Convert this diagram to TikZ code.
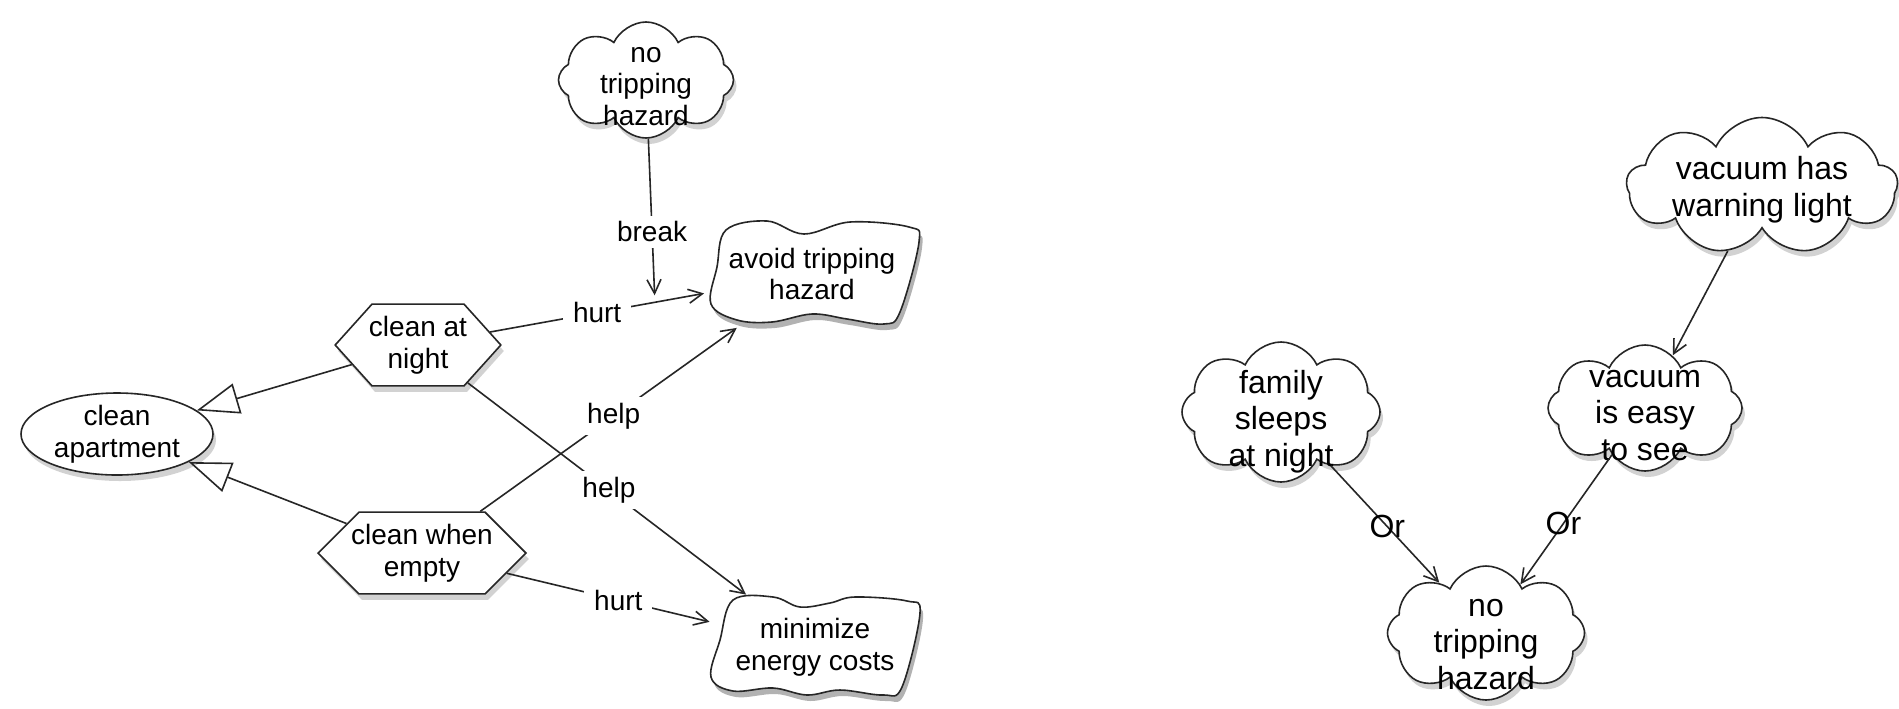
\documentclass[tikz,border=0pt]{standalone}
\usepackage{fontspec}
\setmainfont{Liberation Sans}
\usetikzlibrary{shapes.geometric,shapes.symbols,arrows.meta,shadows}
\newcommand\lfnt{\fontsize{14}{15.8}\selectfont}
\newcommand\rfnt{\fontsize{16}{18.3}\selectfont}
\newcommand\drawblob[2]{%
  \fill[black, opacity=0.3, shift={(#1)}, shift={(3,6)}] plot[smooth cycle, tension=0.6] coordinates {#2};
  \draw[draw=black!85, line width=0.8pt, fill=white, shift={(#1)}] plot[smooth cycle, tension=0.6] coordinates {#2};}
\tikzset{
  base/.style={draw=black!85, line width=0.8pt, fill=white, align=center, inner sep=0pt,
    drop shadow={shadow xshift=1.5pt, shadow yshift=-3pt, opacity=0.35}},
  cloudnode/.style={base, cloud, cloud puffs=8, cloud puff arc=130, cloud ignores aspect},
  ctext/.style={align=center, inner sep=0pt},
  hexnode/.style={base, signal, signal to=east and west, font=\lfnt},
  ellnode/.style={base, ellipse, font=\lfnt},
  blobnode/.style={rectangle, inner sep=0pt, align=center, font=\lfnt},
  conn/.style={draw=black!85, line width=0.8pt},
  arr/.style={conn, -{Straight Barb[length=7pt,width=7pt]}},
  gen/.style={conn, -{Triangle[open,length=21pt,width=15.5pt]}},
  lbl/.style={fill=white, inner xsep=5pt, inner ysep=3pt, font=\lfnt},
  rlbl/.style={inner sep=0pt, font=\rfnt},
}
\begin{document}
\begin{tikzpicture}[x=0.5pt, y=-0.5pt]
\useasboundingbox (0,0) rectangle (1899,708);
\fill[white] (0,0) rectangle (1899,708);
% left diagram
\node[ellnode, minimum width=96pt, minimum height=41pt] (apt) at (117,434) {clean\\apartment};
\node[hexnode, signal pointer angle=96, inner xsep=-1.5pt, inner ysep=6pt] (night) at (418,345) {clean at\\night};
\node[hexnode, signal pointer angle=90, inner xsep=-3.9pt, inner ysep=6pt] (empty) at (422,553) {clean when\\empty};
\node[cloudnode, minimum width=87.5pt, minimum height=58pt,
  label={[ctext, font=\lfnt, yshift=-3.25pt]center:no\\tripping\\hazard}] (ntl) at (646,80) {};
\drawblob{812,272}{(-86,-42) (-45,-51) (-8,-38) (38,-50) (97,-45) (107,-30) (88,40) (72,52) (35,47) (0,42) (-40,50) (-75,48) (-101,32) (-95,-5)}
\node[blobnode, minimum width=107.5pt, minimum height=53.5pt] (avoid) at (812,274) {avoid tripping\\hazard};
\drawblob{815,645}{(-82,-45) (-42,-48) (-15,-38) (15,-42) (40,-48) (92,-44) (105,-32) (87,42) (68,50) (25,45) (-8,50) (-42,43) (-82,46) (-104,32) (-95,-5)}
\node[blobnode, minimum width=105pt, minimum height=52pt] (energy) at (815,647) {minimize\\energy costs};
% right diagram
\node[cloudnode, cloud puffs=9, minimum width=135.5pt, minimum height=68.5pt,
  label={[ctext, font=\rfnt, yshift=-1.75pt]center:vacuum has\\warning light}] (warn) at (1762,186) {};
\node[cloudnode, minimum width=97pt, minimum height=63pt,
  label={[ctext, font=\rfnt, yshift=-3.75pt]center:vacuum\\is easy\\to see}] (easy) at (1645,408) {};
\node[cloudnode, minimum width=99pt, minimum height=70pt,
  label={[ctext, font=\rfnt, yshift=-4.75pt]center:family\\sleeps\\at night}] (fam) at (1281,412) {};
\node[cloudnode, minimum width=98.5pt, minimum height=67pt,
  label={[ctext, font=\rfnt, yshift=-5.75pt]center:no\\tripping\\hazard}] (ntr) at (1486,633) {};
% connectors left
\draw[gen] (night) -- (apt);
\draw[gen] (empty) -- (apt);
\draw[arr] (night) -- node[lbl, pos=0.5] {hurt} coordinate[pos=0.77] (hm) (avoid);
\draw[arr] (empty) -- node[lbl, pos=0.52] {help} (avoid);
\draw[arr] (night) -- node[lbl, pos=0.507] {help} (energy);
\draw[arr] (empty) -- node[lbl, pos=0.55] {hurt} (energy);
\draw[arr, shorten >=3.5pt] (ntl) -- node[lbl, pos=0.57] {break} (hm);
% connectors right
\draw[arr] (warn) -- (easy);
\draw[arr] (fam) -- node[rlbl, pos=0.52] {Or} (ntr);
\draw[arr] (easy) -- node[rlbl, pos=0.53] {Or} (ntr);
\end{tikzpicture}
\end{document}
